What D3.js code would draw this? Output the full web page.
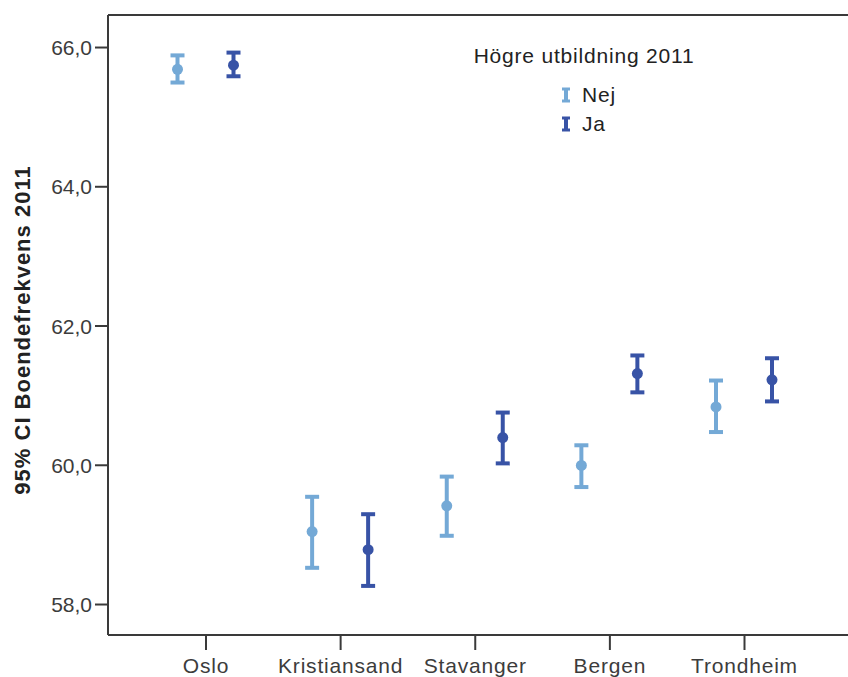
<!DOCTYPE html>
<html>
<head>
<meta charset="utf-8">
<script src="https://cdn.jsdelivr.net/npm/d3@7"></script>
<style>
  html, body { margin: 0; padding: 0; background: #fff; }
  svg { display: block; font-family: "Liberation Sans", Arial, sans-serif; }
</style>
</head>
<body>
<svg id="chart" width="848" height="677"></svg>
<script>
// Cities on the x axis
const cities = ["Oslo", "Kristiansand", "Stavanger", "Bergen", "Trondheim"];
// Groups (legend): higher education 2011
const groups = ["Nej", "Ja"];
const groupColors = ["#74a9d6", "#3853a6"];
// Mean and 95% CI per city, group "Nej"
const nejMean  = [65.68, 59.04, 59.41, 59.99, 60.83];
const nejLower = [65.49, 58.52, 58.98, 59.68, 60.47];
const nejUpper = [65.88, 59.54, 59.83, 60.28, 61.21];
// Mean and 95% CI per city, group "Ja"
const jaMean  = [65.74, 58.78, 60.39, 61.31, 61.22];
const jaLower = [65.58, 58.26, 60.02, 61.04, 60.91];
const jaUpper = [65.92, 59.29, 60.75, 61.57, 61.53];
// Y axis ticks
const yTicks = [58, 60, 62, 64, 66];

const svg = d3.select("#chart");
const plotLeft = 108, plotRight = 860, plotTop = 15, plotBottom = 635;

const y = d3.scaleLinear().domain([57.555, 66.46]).range([plotBottom, plotTop]);
const x = d3.scalePoint().domain(cities).range([205.5, 744]);
const offset = d3.scalePoint().domain(groups).range([-28, 28]);

const fmt = v => d3.format(".1f")(v).replace(".", ",");

// Frame: top line and axes
svg.append("line").attr("x1", plotLeft).attr("x2", plotRight).attr("y1", plotTop).attr("y2", plotTop)
  .attr("stroke", "#3a3a3a").attr("stroke-width", 2);

const yAxis = svg.append("g").attr("transform", `translate(${plotLeft},0)`)
  .call(d3.axisLeft(y).tickValues(yTicks).tickFormat(fmt).tickSize(13).tickPadding(3));
const xAxis = svg.append("g").attr("transform", `translate(0,${plotBottom})`)
  .call(d3.axisBottom(x).tickSize(15).tickPadding(4));

[yAxis, xAxis].forEach(g => {
  g.select(".domain").attr("stroke", "#3a3a3a").attr("stroke-width", 2);
  g.selectAll(".tick line").attr("stroke", "#3a3a3a").attr("stroke-width", 2);
  g.selectAll(".tick text").attr("fill", "#3c3c3c").attr("font-size", 21)
    .attr("font-family", "'Liberation Sans', Arial, sans-serif");
});
yAxis.select(".domain").attr("d", `M0,${plotTop}V${plotBottom}`);
xAxis.select(".domain").attr("d", `M${plotLeft},0H${plotRight}`);
xAxis.selectAll(".tick text").attr("dy", "0.9em").attr("letter-spacing", 0.8);
yAxis.selectAll(".tick text").attr("dy", "0.36em");

// Y axis title
svg.append("text")
  .attr("transform", `translate(30,${(plotTop + plotBottom) / 2 + 5}) rotate(-90)`)
  .attr("text-anchor", "middle")
  .attr("font-size", 22).attr("font-weight", "bold").attr("fill", "#222")
  .attr("letter-spacing", 1)
  .text("95% CI Boendefrekvens 2011");

// Error bars
const data = [];
cities.forEach((c, i) => {
  data.push({ city: c, group: "Nej", mean: nejMean[i], lo: nejLower[i], hi: nejUpper[i] });
  data.push({ city: c, group: "Ja", mean: jaMean[i], lo: jaLower[i], hi: jaUpper[i] });
});
const color = d3.scaleOrdinal().domain(groups).range(groupColors);
const capW = 7;

const bars = svg.append("g").selectAll("g").data(data).join("g")
  .attr("transform", d => `translate(${x(d.city) + offset(d.group)},0)`)
  .attr("stroke", d => color(d.group)).attr("fill", d => color(d.group));
bars.append("line").attr("x1", 0).attr("x2", 0)
  .attr("y1", d => y(d.hi)).attr("y2", d => y(d.lo)).attr("stroke-width", 4);
bars.append("line").attr("x1", -capW).attr("x2", capW)
  .attr("y1", d => y(d.hi)).attr("y2", d => y(d.hi)).attr("stroke-width", 4);
bars.append("line").attr("x1", -capW).attr("x2", capW)
  .attr("y1", d => y(d.lo)).attr("y2", d => y(d.lo)).attr("stroke-width", 4);
bars.append("circle").attr("cx", 0).attr("cy", d => y(d.mean)).attr("r", 5.5).attr("stroke", "none");

// Legend
const legend = svg.append("g");
legend.append("text").attr("x", 584).attr("y", 63).attr("text-anchor", "middle")
  .attr("font-size", 21).attr("fill", "#222").attr("letter-spacing", 0.8)
  .text("Högre utbildning 2011");
const items = legend.selectAll("g.item").data(groups).join("g").attr("class", "item")
  .attr("transform", (d, i) => `translate(566,${95 + i * 29})`);
items.append("line").attr("x1", 0).attr("x2", 0).attr("y1", -6).attr("y2", 6)
  .attr("stroke", d => color(d)).attr("stroke-width", 4);
items.append("line").attr("x1", -4).attr("x2", 4).attr("y1", -6).attr("y2", -6)
  .attr("stroke", d => color(d)).attr("stroke-width", 3);
items.append("line").attr("x1", -4).attr("x2", 4).attr("y1", 6).attr("y2", 6)
  .attr("stroke", d => color(d)).attr("stroke-width", 3);
items.append("text").attr("x", 16).attr("y", 7).attr("font-size", 21).attr("fill", "#222")
  .attr("letter-spacing", 0.8)
  .text(d => d);
</script>
</body>
</html>
